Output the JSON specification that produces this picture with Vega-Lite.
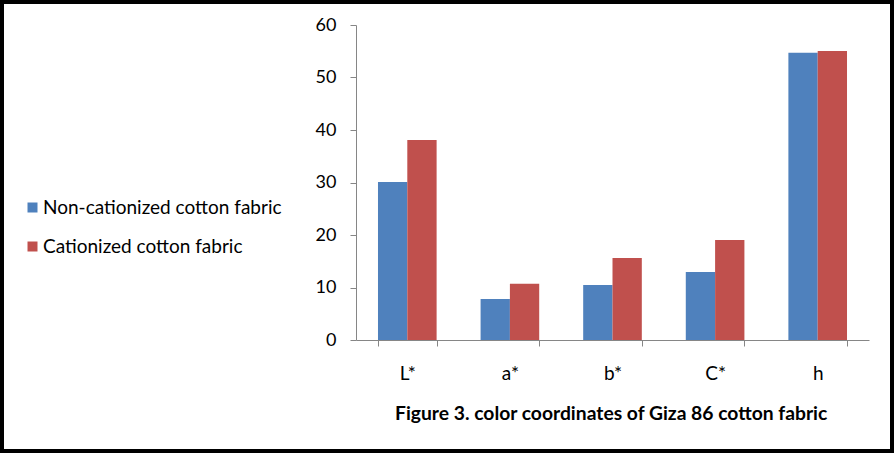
{
  "$schema": "https://vega.github.io/schema/vega-lite/v6.json",
  "width": 890,
  "height": 449,
  "padding": 2,
  "autosize": {"type": "none"},
  "background": "white",
  "config": {
    "view": {"stroke": "black", "strokeWidth": 4},
    "font": "Lato"
  },
  "title": {
    "text": "Figure 3. color coordinates of Giza 86 cotton fabric",
    "orient": "bottom",
    "frame": "group",
    "anchor": "start",
    "dx": 393,
    "offset": -46,
    "fontSize": 19.3,
    "fontWeight": "bold",
    "font": "Lato",
    "color": "black"
  },
  "data": {
    "values": [
      {"coord": "L*", "fabric": "Non-cationized cotton fabric", "value": 30.1},
      {"coord": "L*", "fabric": "Cationized cotton fabric", "value": 38.1},
      {"coord": "a*", "fabric": "Non-cationized cotton fabric", "value": 7.8},
      {"coord": "a*", "fabric": "Cationized cotton fabric", "value": 10.7},
      {"coord": "b*", "fabric": "Non-cationized cotton fabric", "value": 10.5},
      {"coord": "b*", "fabric": "Cationized cotton fabric", "value": 15.6},
      {"coord": "C*", "fabric": "Non-cationized cotton fabric", "value": 12.95},
      {"coord": "C*", "fabric": "Cationized cotton fabric", "value": 19.05},
      {"coord": "h", "fabric": "Non-cationized cotton fabric", "value": 54.7},
      {"coord": "h", "fabric": "Cationized cotton fabric", "value": 55.05}
    ]
  },
  "mark": {"type": "bar"},
  "encoding": {
    "x": {
      "field": "coord",
      "type": "nominal",
      "sort": ["L*", "a*", "b*", "C*", "h"],
      "scale": {"range": [354, 867], "paddingInner": 0.4286, "paddingOuter": 0.2143},
      "axis": {
        "title": null,
        "labelAngle": 0,
        "offset": -111,
        "tickBand": "extent",
        "domainColor": "#868686",
        "tickColor": "#868686",
        "tickSize": 6,
        "labelFontSize": 19,
        "labelPadding": 18,
        "labelColor": "black"
      }
    },
    "xOffset": {
      "field": "fabric",
      "type": "nominal",
      "sort": ["Non-cationized cotton fabric", "Cationized cotton fabric"]
    },
    "y": {
      "field": "value",
      "type": "quantitative",
      "scale": {"domain": [0, 60], "range": [338, 23]},
      "axis": {
        "title": null,
        "offset": -354,
        "grid": false,
        "values": [0, 10, 20, 30, 40, 50, 60],
        "domainColor": "#868686",
        "tickColor": "#868686",
        "tickSize": 6,
        "labelFontSize": 18,
        "labelPadding": 14,
        "labelColor": "black"
      }
    },
    "color": {
      "field": "fabric",
      "type": "nominal",
      "sort": ["Non-cationized cotton fabric", "Cationized cotton fabric"],
      "scale": {
        "domain": ["Non-cationized cotton fabric", "Cationized cotton fabric"],
        "range": ["#4F81BD", "#C0504D"]
      },
      "legend": {
        "title": null,
        "orient": "none",
        "legendX": 21,
        "legendY": 196,
        "padding": 0,
        "symbolType": "square",
        "symbolSize": 100,
        "symbolStrokeWidth": 0,
        "labelFontSize": 19,
        "labelColor": "black",
        "labelOffset": 1,
        "labelLimit": 0,
        "rowPadding": 19
      }
    }
  }
}
